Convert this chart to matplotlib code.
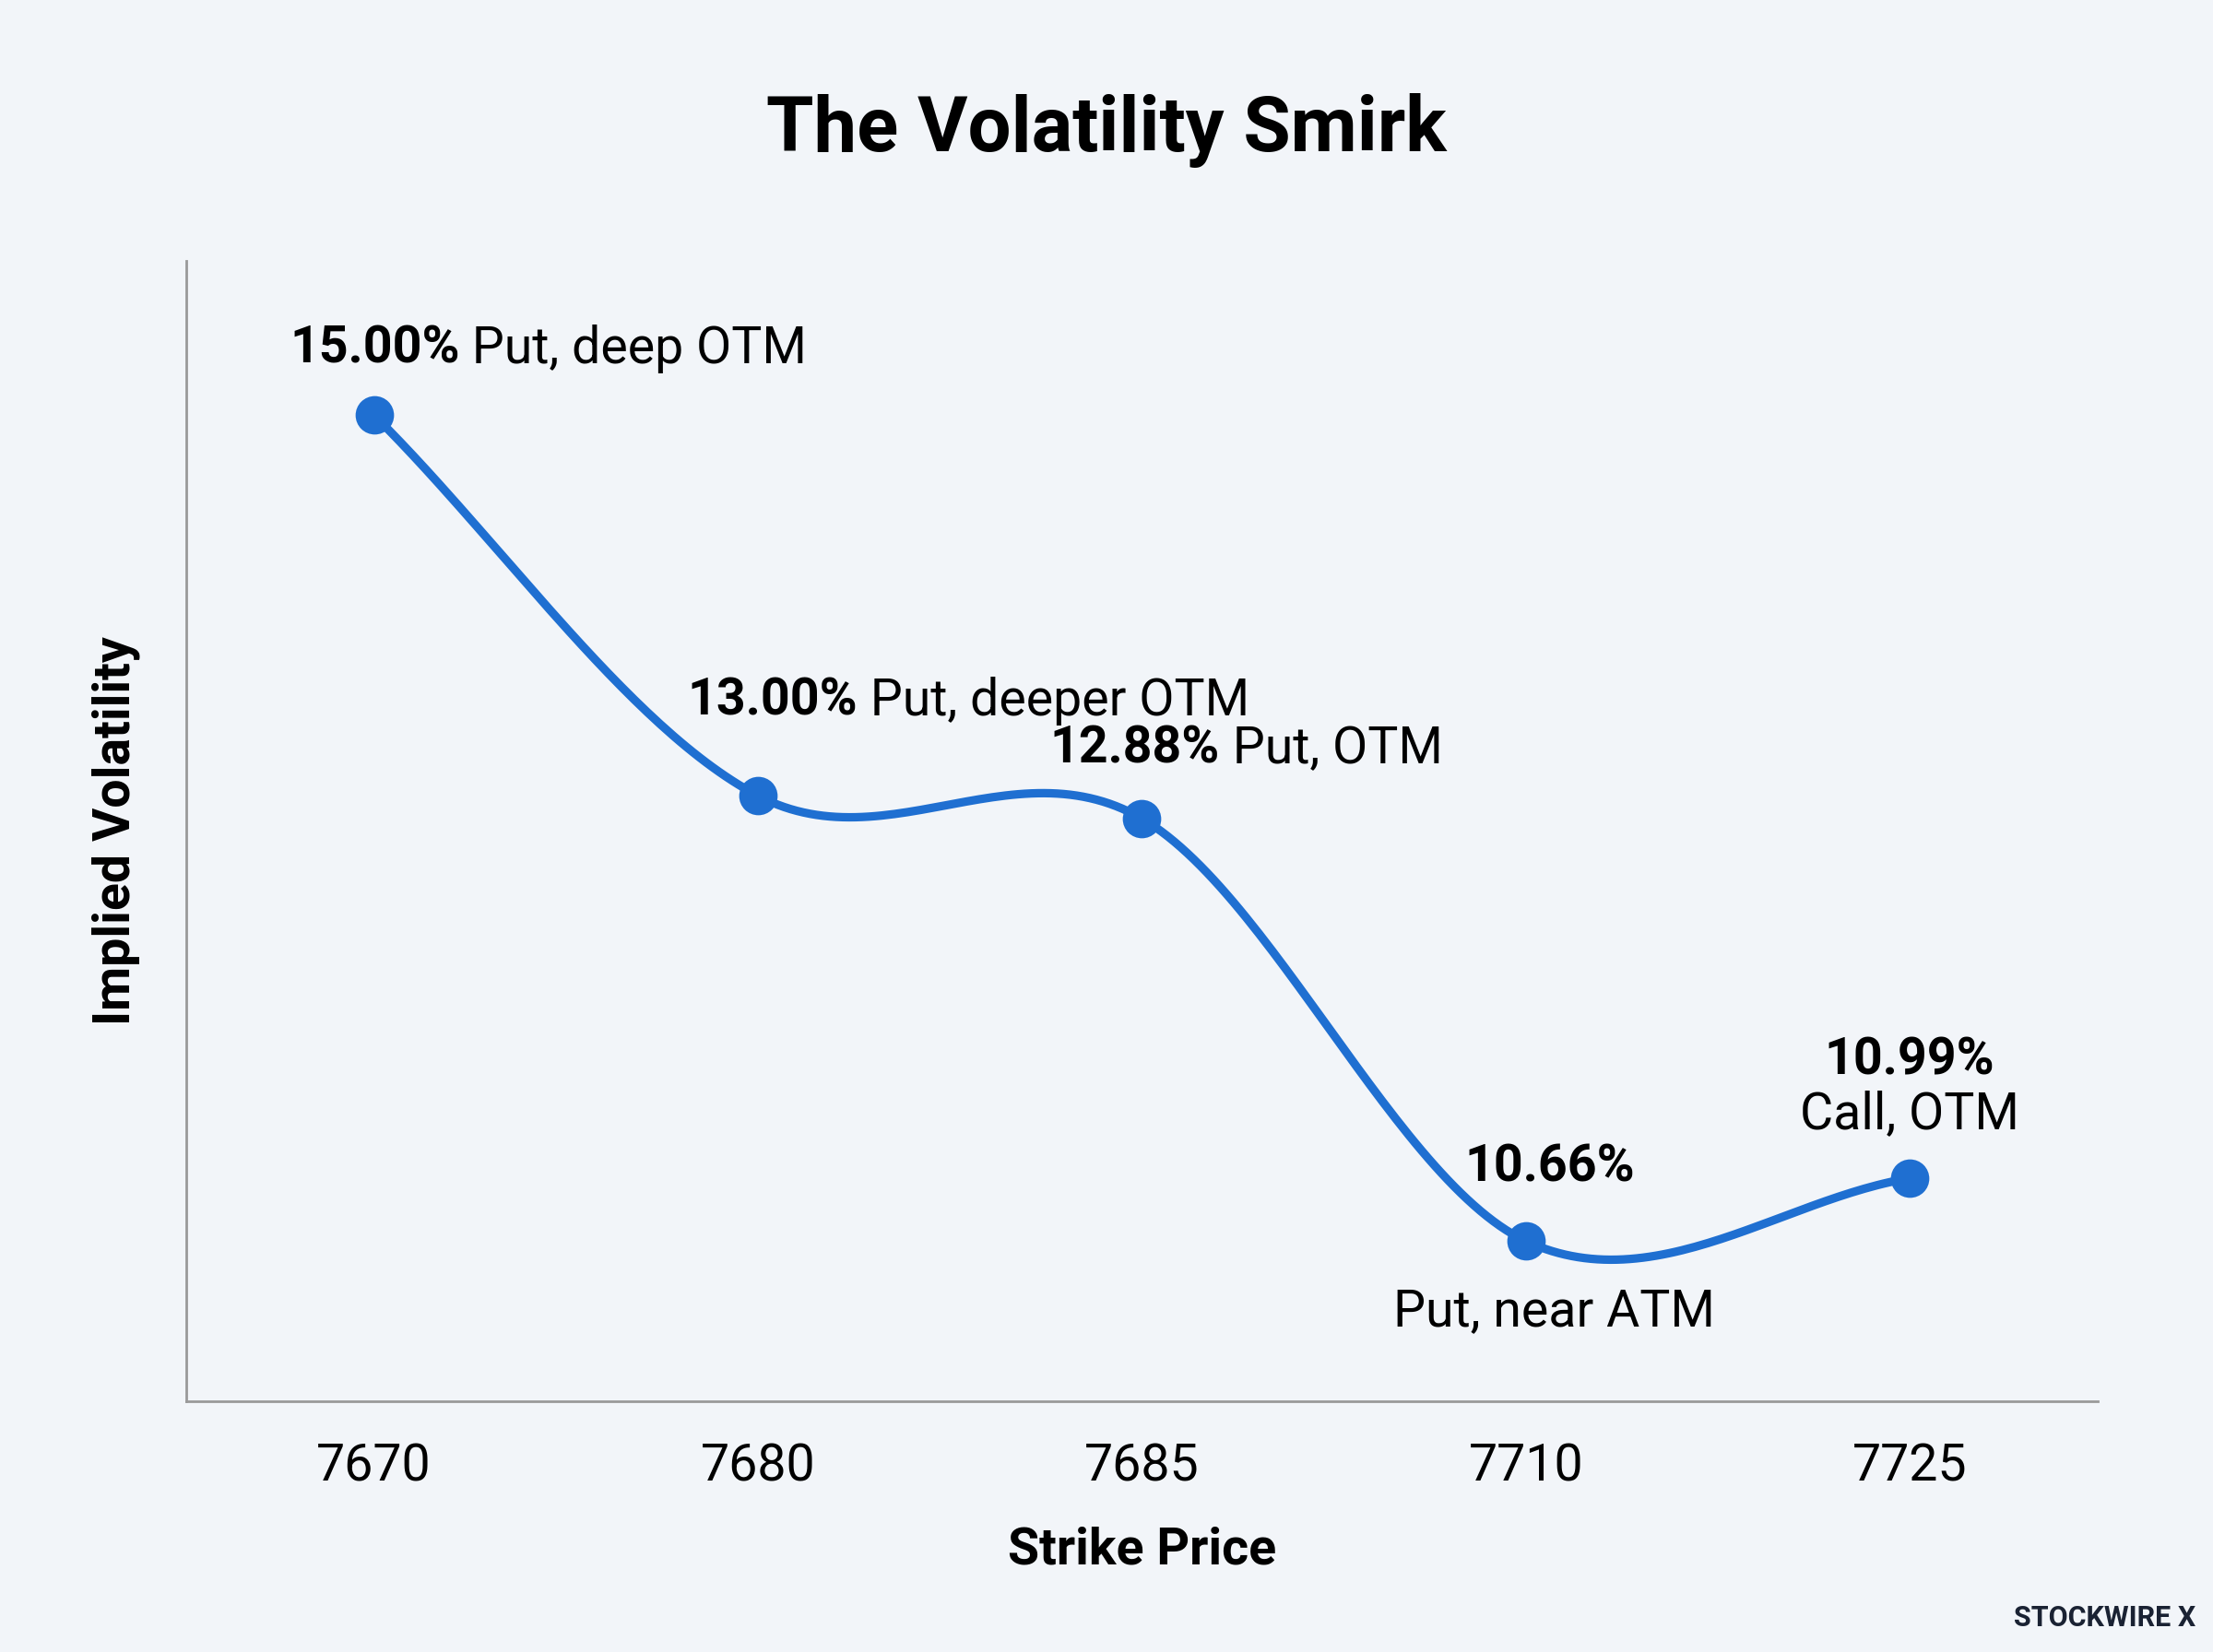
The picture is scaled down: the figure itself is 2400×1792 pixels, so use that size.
import numpy as np
import matplotlib
matplotlib.use("Agg")
import matplotlib.pyplot as plt

plt.rcParams["font.family"] = ["Roboto", "DejaVu Sans"]

# --- data ---
strikes = ["7670", "7680", "7685", "7710", "7725"]
iv = [15.00, 13.00, 12.88, 10.66, 10.99]
labels_val = ["15.00%", "13.00%", "12.88%", "10.66%", "10.99%"]
labels_txt = ["Put, deep OTM", "Put, deeper OTM", "Put, OTM", "Put, near ATM", "Call, OTM"]

BG = "#f2f5f9"
BLUE = "#1f6fd1"


def catmull_rom(x, y, n=60):
    # smooth curve through points (display only)
    x = np.asarray(x, float)
    y = np.asarray(y, float)
    px = np.concatenate([[2 * x[0] - x[1]], x, [2 * x[-1] - x[-2]]])
    py = np.concatenate([[2 * y[0] - y[1]], y, [2 * y[-1] - y[-2]]])
    xs, ys = [], []
    t = np.linspace(0, 1, n)
    for i in range(1, len(px) - 2):
        for p, out in ((px, xs), (py, ys)):
            p0, p1, p2, p3 = p[i - 1], p[i], p[i + 1], p[i + 2]
            out.extend(0.5 * ((2 * p1) + (-p0 + p2) * t
                              + (2 * p0 - 5 * p1 + 4 * p2 - p3) * t ** 2
                              + (-p0 + 3 * p1 - 3 * p2 + p3) * t ** 3))
    return np.array(xs), np.array(ys)


fig = plt.figure(figsize=(12, 8.96), dpi=200, facecolor=BG)
ax = fig.add_axes([0.084, 0.152, 0.864, 0.690], facecolor=BG)

x = np.arange(len(strikes))
cx, cy = catmull_rom(x, iv)
ax.plot(cx, cy, color=BLUE, lw=3.3, solid_capstyle="round", zorder=2)
ax.plot(x, iv, "o", color=BLUE, ms=14, zorder=3)

ax.set_xlim(-0.49, 4.49)
ax.set_ylim(9.82, 15.81)
ax.set_xticks(x, strikes, fontsize=20)
ax.set_yticks([])
ax.tick_params(axis="x", length=0, pad=16)
for s in ("top", "right"):
    ax.spines[s].set_visible(False)
for s in ("left", "bottom"):
    ax.spines[s].set_color("#9a9a9a")
    ax.spines[s].set_linewidth(1)

ax.set_xlabel("Strike Price", fontsize=20, fontweight="bold", labelpad=14)
ax.set_ylabel("Implied Volatility", fontsize=20, fontweight="bold", labelpad=18)
fig.text(0.5, 0.921, "The Volatility Smirk", ha="center", va="center",
         fontsize=30, fontweight="bold")

# inline labels: bold value followed by description
inline = {0: (-33, 26), 1: (-27.5, 37), 2: (-36, 27)}
for i, (dx, dy) in inline.items():
    t = ax.annotate(labels_val[i], (x[i], iv[i]), xytext=(dx, dy),
                    textcoords="offset points", ha="left", va="center",
                    fontsize=20, fontweight="bold")
    ax.annotate(" " + labels_txt[i], xy=(1, 0.5), xycoords=t,
                ha="left", va="center", fontsize=20)

ax.annotate(labels_val[3], (x[3], iv[3]), xytext=(-24, 28.6),
            textcoords="offset points", ha="left", va="center",
            fontsize=20, fontweight="bold")
ax.annotate(labels_txt[3], (x[3], iv[3]), xytext=(11, -27.5),
            textcoords="offset points", ha="center", va="center", fontsize=20)
ax.annotate(labels_val[4], (x[4], iv[4]), xytext=(0, 46),
            textcoords="offset points", ha="center", va="center",
            fontsize=20, fontweight="bold")
ax.annotate(labels_txt[4], (x[4], iv[4]), xytext=(0, 25),
            textcoords="offset points", ha="center", va="center", fontsize=20)

fig.text(0.992, 0.012, "STOCKWIRE X", ha="right", va="bottom",
         fontsize=11, fontweight="bold", color="#1a2233")

fig.savefig("out.png", dpi=200, facecolor=BG)
